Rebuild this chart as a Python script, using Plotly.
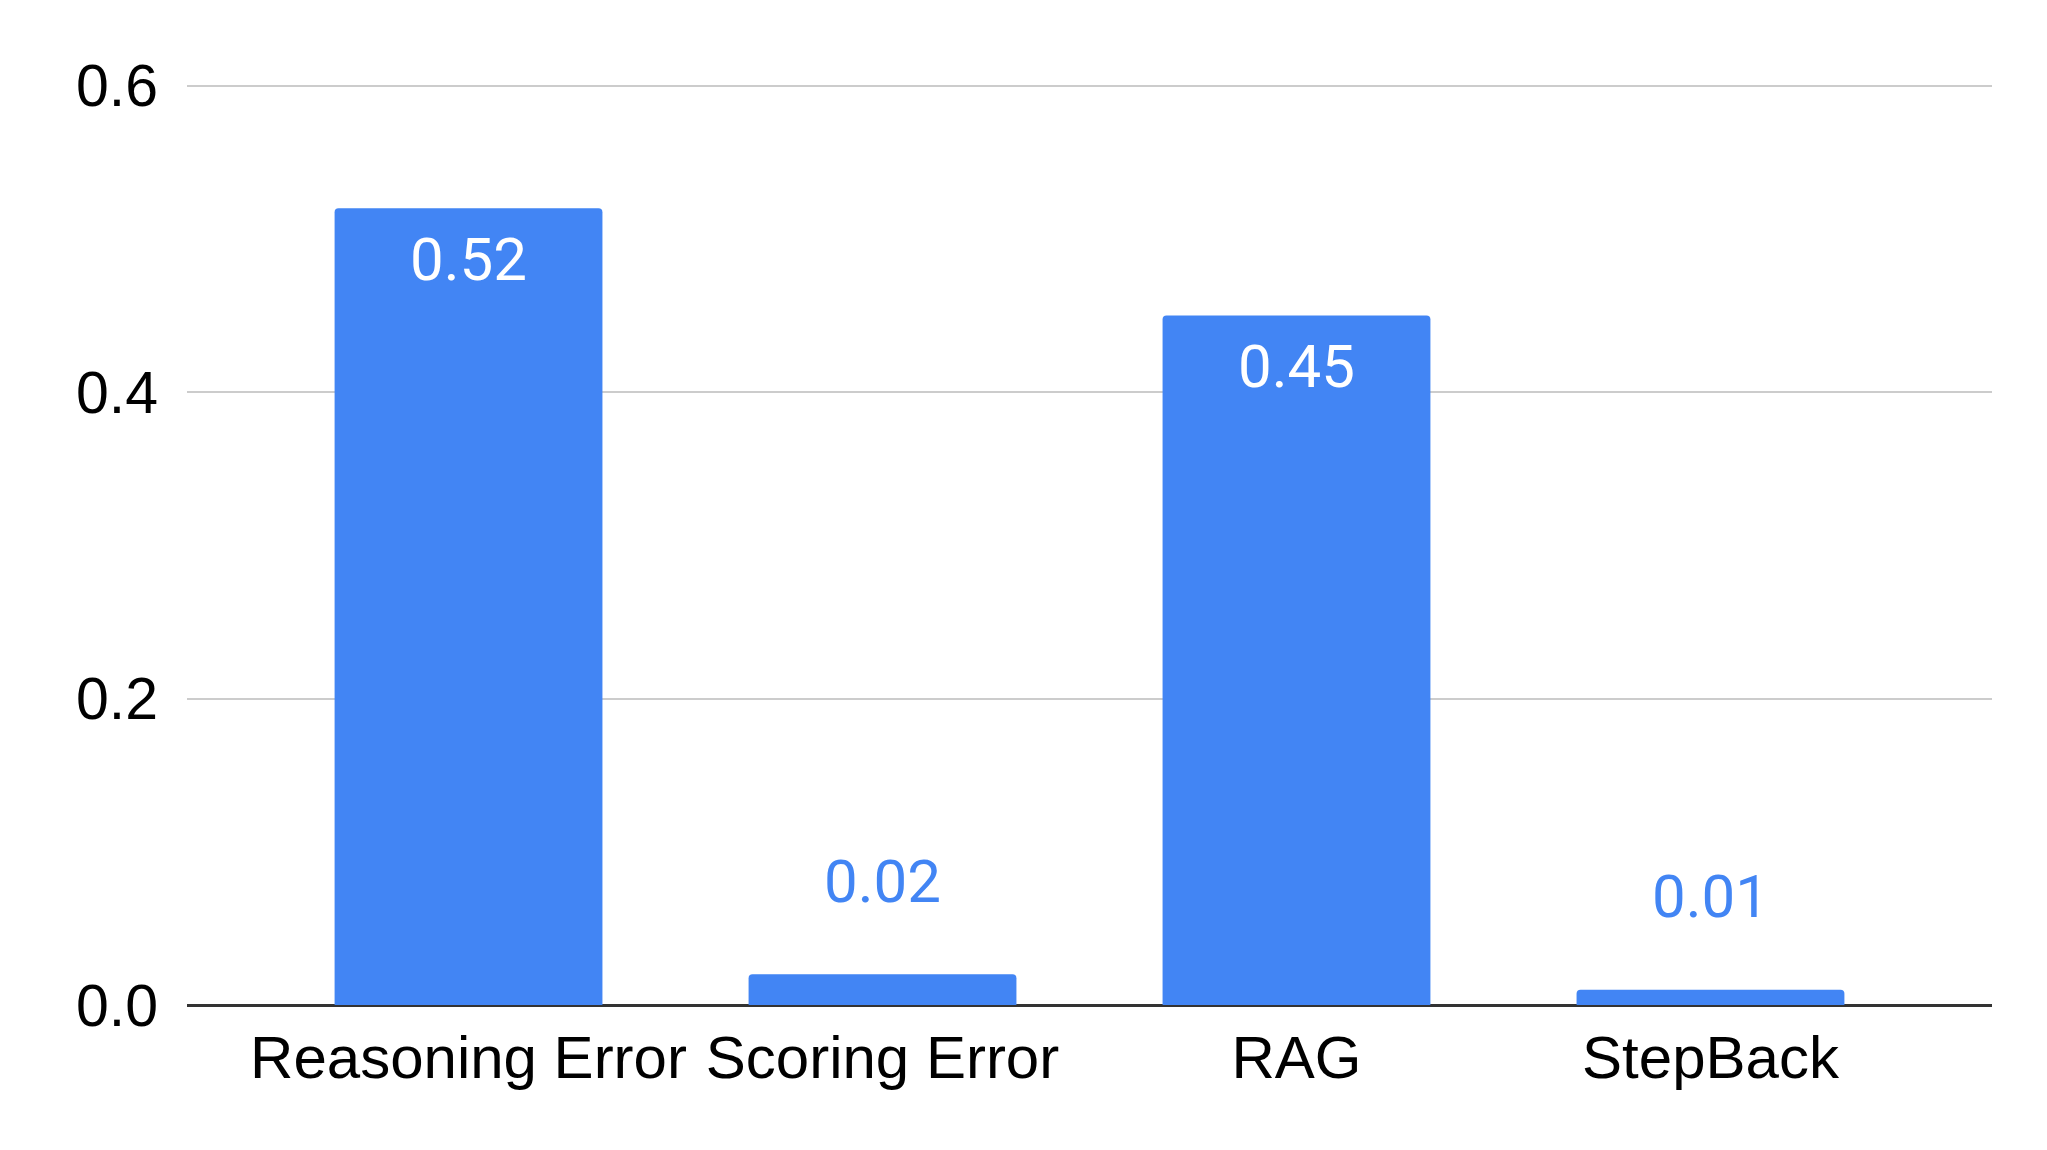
import plotly.graph_objects as go

categories = ["Reasoning Error", "Scoring Error", "RAG", "StepBack"]
values = [0.52, 0.02, 0.45, 0.01]
value_labels = ["0.52", "0.02", "0.45", "0.01"]
y_ticks = [0.0, 0.2, 0.4, 0.6]
y_tick_labels = ["0.0", "0.2", "0.4", "0.6"]

BLUE = "#4285F4"

fig = go.Figure()
fig.add_trace(go.Bar(
    x=categories, y=values,
    marker=dict(color=BLUE, line=dict(width=0), cornerradius=4),
    width=0.647,
    hoverinfo="skip",
))

annotations = []
for c, v, t in zip(categories, values, value_labels):
    inside = v > 0.1
    annotations.append(dict(
        x=c, y=v, xref="x", yref="y", text=t, showarrow=False,
        yanchor="middle", xanchor="center",
        yshift=-51 if inside else 93,
        font=dict(family="Roboto", size=60, color="white" if inside else BLUE),
    ))

fig.update_layout(
    width=2047, height=1150,
    margin=dict(l=179, r=63, t=70, b=153),
    paper_bgcolor="white", plot_bgcolor="white",
    showlegend=False,
    annotations=annotations,
)
fig.update_xaxes(
    range=[-0.68, 3.68], tickangle=0,
    tickfont=dict(family="Liberation Sans", size=60, color="#000000"),
    showgrid=False, showline=False, ticks="", ticklabelstandoff=12,
)
fig.update_yaxes(
    range=[0, 0.605], tickvals=y_ticks, ticktext=y_tick_labels,
    tickfont=dict(family="Liberation Sans", size=59, color="#000000"),
    showgrid=True, gridcolor="#cccccc", gridwidth=2,
    zeroline=True, zerolinecolor="#333333", zerolinewidth=3,
    showline=False, ticks="", ticklabelstandoff=28,
)

fig.write_html("out.html")
